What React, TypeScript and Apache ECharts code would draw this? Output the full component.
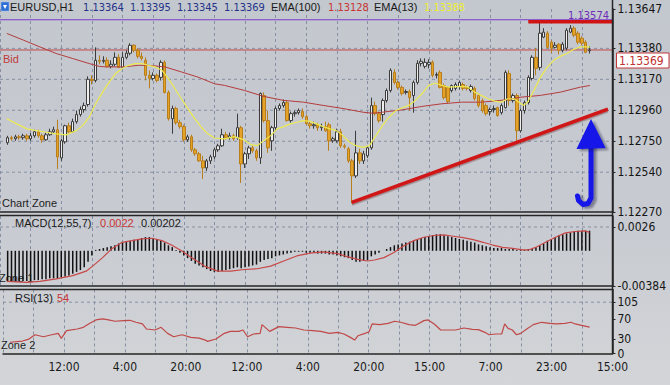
import React, { useEffect, useRef } from "react";
import * as echarts from "echarts";

// ---------- data ----------
const FIRST_BAR = -6; // bar index of the first (left-most) candle

const opens = [
  1.12740, 1.12774, 1.12767, 1.12780, 1.12774, 1.12787, 1.12767, 1.12787, 1.12814, 1.12787,
  1.12760, 1.12794, 1.12814, 1.12828, 1.12637, 1.12746, 1.12855, 1.12814, 1.12883, 1.12931,
  1.12965, 1.12999, 1.13170, 1.13162, 1.13299, 1.13292, 1.13299, 1.13258, 1.13272, 1.13319,
  1.13251, 1.13319, 1.13347, 1.13401, 1.13367, 1.13326, 1.13299, 1.13197, 1.13176, 1.13197,
  1.13183, 1.13285, 1.13081, 1.12903, 1.12972, 1.12876, 1.12849, 1.12760, 1.12780, 1.12692,
  1.12665, 1.12617, 1.12569, 1.12617, 1.12644, 1.12692, 1.12719, 1.12794, 1.12774, 1.12787,
  1.12774, 1.12842, 1.12596, 1.12665, 1.12705, 1.12685, 1.12637, 1.13060, 1.12890, 1.12753,
  1.12842, 1.12972, 1.12992, 1.13012, 1.12890, 1.12937, 1.12944, 1.12951, 1.12917, 1.12869,
  1.12855, 1.12862, 1.12842, 1.12849, 1.12862, 1.12753, 1.12753, 1.12814, 1.12719, 1.12699,
  1.12617, 1.12515, 1.12671, 1.12617, 1.12651, 1.12705, 1.12992, 1.12937, 1.12931, 1.13026,
  1.13094, 1.13217, 1.13149, 1.13115, 1.13081, 1.13087, 1.13060, 1.13149, 1.13278, 1.13258,
  1.13272, 1.13285, 1.13197, 1.13217, 1.13128, 1.13115, 1.13094, 1.13108, 1.13121, 1.13135,
  1.13115, 1.13094, 1.13108, 1.13060, 1.13026, 1.12992, 1.12951, 1.12965, 1.12978, 1.12944,
  1.12978, 1.13210, 1.13026, 1.13060, 1.12821, 1.12958, 1.13012, 1.13176, 1.13319, 1.13251,
  1.13456, 1.13483, 1.13422, 1.13387, 1.13408, 1.13367, 1.13381, 1.13490, 1.13517, 1.13483,
  1.13449, 1.13422, 1.13364,
];
const closes = [
  1.12774, 1.12767, 1.12780, 1.12774, 1.12787, 1.12767, 1.12787, 1.12814, 1.12787, 1.12760,
  1.12794, 1.12814, 1.12828, 1.12644, 1.12753, 1.12855, 1.12814, 1.12883, 1.12931, 1.12965,
  1.12992, 1.13170, 1.13162, 1.13299, 1.13292, 1.13299, 1.13258, 1.13272, 1.13319, 1.13251,
  1.13319, 1.13347, 1.13401, 1.13367, 1.13326, 1.13312, 1.13197, 1.13176, 1.13197, 1.13162,
  1.13285, 1.13081, 1.12903, 1.12972, 1.12876, 1.12849, 1.12760, 1.12780, 1.12692, 1.12665,
  1.12617, 1.12569, 1.12617, 1.12644, 1.12692, 1.12719, 1.12794, 1.12774, 1.12787, 1.12767,
  1.12842, 1.12596, 1.12665, 1.12705, 1.12685, 1.12637, 1.13074, 1.12890, 1.12705, 1.12842,
  1.12972, 1.12992, 1.13012, 1.12890, 1.12937, 1.12944, 1.12958, 1.12917, 1.12869, 1.12855,
  1.12862, 1.12842, 1.12849, 1.12821, 1.12753, 1.12767, 1.12814, 1.12719, 1.12712, 1.12617,
  1.12515, 1.12671, 1.12617, 1.12665, 1.12705, 1.12992, 1.12937, 1.12890, 1.13026, 1.13094,
  1.13231, 1.13149, 1.13115, 1.13074, 1.13087, 1.13046, 1.13149, 1.13278, 1.13292, 1.13285,
  1.13285, 1.13197, 1.13203, 1.13115, 1.13046, 1.13019, 1.13128, 1.13135, 1.13149, 1.13108,
  1.13108, 1.13121, 1.13040, 1.12992, 1.12958, 1.12937, 1.12965, 1.12972, 1.12924, 1.12992,
  1.13217, 1.13026, 1.13060, 1.12821, 1.12958, 1.13012, 1.13183, 1.13319, 1.13244, 1.13483,
  1.13490, 1.13387, 1.13381, 1.13401, 1.13367, 1.13408, 1.13503, 1.13517, 1.13469, 1.13422,
  1.13415, 1.13353, 1.13369,
];
const highs = [
  1.12787, 1.12787, 1.12794, 1.12794, 1.12801, 1.12801, 1.12808, 1.12828, 1.12828, 1.12801,
  1.12808, 1.12835, 1.12849, 1.12896, 1.12767, 1.12862, 1.12876, 1.12903, 1.12958, 1.12985,
  1.13012, 1.13190, 1.13197, 1.13387, 1.13333, 1.13326, 1.13319, 1.13299, 1.13353, 1.13340,
  1.13353, 1.13367, 1.13415, 1.13408, 1.13381, 1.13353, 1.13319, 1.13231, 1.13217, 1.13210,
  1.13299, 1.13299, 1.13094, 1.12992, 1.12985, 1.12896, 1.12862, 1.12794, 1.12794, 1.12705,
  1.12678, 1.12651, 1.12630, 1.12658, 1.12705, 1.12733, 1.12835, 1.12814, 1.12808, 1.12801,
  1.12937, 1.12855, 1.12678, 1.12719, 1.12719, 1.12699, 1.13081, 1.13081, 1.12958, 1.12855,
  1.12985, 1.13006, 1.13033, 1.13026, 1.12951, 1.12958, 1.12972, 1.12972, 1.12931, 1.12883,
  1.12883, 1.12876, 1.12869, 1.12883, 1.12876, 1.12780, 1.12835, 1.12835, 1.12733, 1.12712,
  1.12630, 1.12821, 1.12699, 1.12685, 1.12719, 1.13046, 1.13019, 1.12951, 1.13040, 1.13108,
  1.13244, 1.13238, 1.13162, 1.13128, 1.13101, 1.13101, 1.13162, 1.13299, 1.13312, 1.13312,
  1.13306, 1.13299, 1.13217, 1.13231, 1.13142, 1.13121, 1.13135, 1.13149, 1.13162, 1.13149,
  1.13128, 1.13135, 1.13121, 1.13074, 1.13040, 1.13006, 1.12978, 1.12992, 1.12985, 1.13006,
  1.13231, 1.13231, 1.13074, 1.13074, 1.12972, 1.13026, 1.13197, 1.13333, 1.13381, 1.13558,
  1.13517, 1.13497, 1.13435, 1.13422, 1.13415, 1.13422, 1.13517, 1.13538, 1.13531, 1.13497,
  1.13462, 1.13435, 1.13395,
];
const lows = [
  1.12726, 1.12753, 1.12753, 1.12760, 1.12760, 1.12753, 1.12753, 1.12774, 1.12774, 1.12740,
  1.12753, 1.12787, 1.12801, 1.12562, 1.12617, 1.12733, 1.12801, 1.12808, 1.12869, 1.12917,
  1.12944, 1.12985, 1.13135, 1.13149, 1.13272, 1.13278, 1.13251, 1.13244, 1.13258, 1.13251,
  1.13244, 1.13306, 1.13333, 1.13353, 1.13312, 1.13299, 1.13162, 1.13108, 1.13162, 1.13149,
  1.13162, 1.13074, 1.12890, 1.12801, 1.12862, 1.12835, 1.12746, 1.12746, 1.12678, 1.12651,
  1.12610, 1.12494, 1.12549, 1.12596, 1.12630, 1.12678, 1.12712, 1.12760, 1.12760, 1.12753,
  1.12760, 1.12467, 1.12569, 1.12630, 1.12671, 1.12617, 1.12596, 1.12876, 1.12671, 1.12685,
  1.12821, 1.12958, 1.12978, 1.12883, 1.12876, 1.12917, 1.12931, 1.12903, 1.12862, 1.12835,
  1.12835, 1.12821, 1.12821, 1.12814, 1.12685, 1.12740, 1.12740, 1.12705, 1.12699, 1.12603,
  1.12330, 1.12501, 1.12596, 1.12596, 1.12637, 1.12692, 1.12924, 1.12876, 1.12883, 1.13012,
  1.13081, 1.13135, 1.13101, 1.13060, 1.13067, 1.12958, 1.12944, 1.13135, 1.13258, 1.13244,
  1.13244, 1.13183, 1.13176, 1.13108, 1.13033, 1.13006, 1.13081, 1.13094, 1.13101, 1.13094,
  1.13094, 1.13081, 1.13026, 1.12978, 1.12944, 1.12924, 1.12924, 1.12944, 1.12917, 1.12931,
  1.12972, 1.12992, 1.13012, 1.12753, 1.12808, 1.12937, 1.12999, 1.13162, 1.13197, 1.13231,
  1.13449, 1.13381, 1.13347, 1.13381, 1.13340, 1.13353, 1.13367, 1.13483, 1.13456, 1.13408,
  1.13401, 1.13347, 1.13345,
];

// EMA lines (bar index, price)
const ema100X = [-6.2, -1.9, 2.4, 6.7, 11.0, 15.3, 17.9, 19.6, 23.9, 28.2, 30.8, 35.1, 39.4, 43.7, 48.0, 50.6, 55.8, 60.9, 66.1, 71.3, 76.4, 81.6, 86.8, 89.3, 91.9, 97.1, 102.2, 107.4, 112.6, 117.7, 122.9, 128.1, 133.2, 138.4, 143.6, 146.1];
const ema100V = [1.13481, 1.13436, 1.13390, 1.13345, 1.13311, 1.13277, 1.13258, 1.13254, 1.13254, 1.13265, 1.13265, 1.13254, 1.13220, 1.13185, 1.13140, 1.13129, 1.13095, 1.13054, 1.13027, 1.13015, 1.12993, 1.12972, 1.12947, 1.12940, 1.12947, 1.12963, 1.12986, 1.13004, 1.13015, 1.13015, 1.13027, 1.13049, 1.13061, 1.13083, 1.13117, 1.13128];
const ema13X = [-6.2, -3.6, -1.0, 1.5, 4.1, 6.7, 9.3, 11.9, 13.6, 15.3, 17.0, 18.8, 20.5, 22.2, 23.9, 25.6, 27.4, 29.1, 30.8, 32.5, 34.3, 36.0, 37.7, 39.4, 41.1, 42.9, 44.6, 46.3, 48.0, 50.6, 53.2, 55.8, 57.5, 59.2, 60.9, 62.7, 64.4, 66.1, 67.8, 69.5, 71.3, 73.0, 74.7, 76.4, 78.2, 79.9, 81.6, 83.3, 85.0, 86.8, 88.5, 90.2, 91.9, 93.6, 95.4, 97.1, 98.8, 100.5, 102.2, 104.0, 105.7, 107.4, 109.1, 112.6, 114.3, 116.0, 117.7, 119.5, 121.2, 122.9, 124.6, 126.3, 128.1, 128.9, 129.8, 131.5, 133.2, 135.0, 136.7, 138.4, 140.1, 141.8, 143.6, 145.3, 146.1];
const ema13V = [1.12902, 1.12868, 1.12834, 1.12822, 1.12811, 1.12800, 1.12793, 1.12822, 1.12856, 1.12913, 1.13004, 1.13083, 1.13151, 1.13209, 1.13243, 1.13265, 1.13277, 1.13277, 1.13265, 1.13254, 1.13231, 1.13175, 1.13106, 1.13038, 1.12970, 1.12902, 1.12845, 1.12800, 1.12772, 1.12766, 1.12781, 1.12759, 1.12727, 1.12720, 1.12754, 1.12788, 1.12834, 1.12849, 1.12868, 1.12879, 1.12890, 1.12885, 1.12868, 1.12849, 1.12834, 1.12822, 1.12788, 1.12743, 1.12720, 1.12708, 1.12720, 1.12788, 1.12856, 1.12913, 1.12958, 1.12977, 1.12993, 1.13027, 1.13072, 1.13129, 1.13145, 1.13129, 1.13117, 1.13122, 1.13117, 1.13083, 1.13061, 1.13038, 1.13022, 1.13015, 1.13038, 1.13038, 1.13004, 1.12993, 1.13015, 1.13095, 1.13185, 1.13254, 1.13299, 1.13327, 1.13345, 1.13372, 1.13390, 1.13390, 1.13388];

// drawn objects on the price chart
const trendX = [83.9, 150.8];
const trendY = [1.12335, 1.12968];
const resistX = [130, 152];
const resistY = [1.13561, 1.13561];
const bidPrice = 1.13369;
const hLinePrice = 1.13574;

// MACD histogram (one per bar) and signal line
const macdHist = [
  -0.0033, -0.0034, -0.0034, -0.0034, -0.0033, -0.0033, -0.0033, -0.0032, -0.0032,
  -0.0031, -0.0031, -0.0030, -0.0030,
  -0.0030, -0.0029, -0.0028, -0.0027,
  -0.0025, -0.0023, -0.0021, -0.0018,
  -0.0012, -0.0005,
  0.0001, 0.0002, 0.0003,
  0.0004, 0.0005, 0.0006, 0.0008, 0.0009, 0.0010, 0.0011, 0.0012, 0.0013, 0.0014, 0.0015, 0.0015,
  0.0014, 0.0013, 0.0011, 0.0009, 0.0006, 0.0004, 0.0001,
  -0.0002, -0.0005, -0.0008, -0.0011, -0.0014, -0.0016, -0.0018, -0.0020, -0.0022, -0.0023,
  -0.0023, -0.0022, -0.0021, -0.0020, -0.0019, -0.0018, -0.0019, -0.0018, -0.0017, -0.0016, -0.0015, -0.0012, -0.0010, -0.0009,
  -0.0008, -0.0006, -0.0005, -0.0004, -0.0003, -0.0002,
  -0.0001, -0.0001, -0.0001, -0.0002, -0.0002, -0.0002, -0.0003, -0.0003, -0.0003, -0.0004, -0.0004, -0.0005,
  -0.0006, -0.0007, -0.0008, -0.0010, -0.0012, -0.0012, -0.0011,
  -0.0010, -0.0006, -0.0004, -0.0002, 0.0000, 0.0002,
  0.0004, 0.0006, 0.0007, 0.0008, 0.0009, 0.0010, 0.0011, 0.0012, 0.0014, 0.0015, 0.0016, 0.0017, 0.0018,
  0.0018, 0.0017, 0.0016, 0.0015, 0.0014, 0.0013, 0.0012, 0.0011, 0.0010, 0.0009, 0.0007, 0.0006, 0.0005, 0.0004,
  0.0003, 0.0003, 0.0003, 0.0002, 0.0002, 0.0002, 0.0001, 0.0001, 0.0001, 0.0002, 0.0002,
  0.0004, 0.0006, 0.0008, 0.0011, 0.0013, 0.0015, 0.0017, 0.0018, 0.0019, 0.0020, 0.0021, 0.0022, 0.0022, 0.0022, 0.0022,
];
const macdSigX = [-6.2, -1.0, 2.4, 6.7, 11.0, 14.5, 16.2, 18.8, 21.3, 23.9, 26.5, 29.1, 31.7, 34.3, 36.8, 39.4, 42.0, 45.4, 48.9, 52.3, 55.8, 59.2, 62.7, 66.1, 69.5, 73.0, 76.4, 80.3, 82.9, 85.5, 88.0, 89.8, 92.3, 94.9, 97.5, 100.1, 102.7, 105.3, 107.9, 110.4, 113.0, 115.6, 118.2, 120.7, 123.3, 125.9, 128.5, 130.2, 131.9, 134.5, 137.1, 139.7, 142.3, 144.8, 146.0];
const macdSigV = [-0.00333, -0.00344, -0.00333, -0.00307, -0.00270, -0.00222, -0.00167, -0.00074, 0.00026, 0.00093, 0.00111, 0.00130, 0.00137, 0.00111, 0.00063, 0.00000, -0.00074, -0.00167, -0.00222, -0.00222, -0.00204, -0.00196, -0.00167, -0.00111, -0.00056, -0.00026, -0.00011, -0.00030, -0.00067, -0.00093, -0.00111, -0.00100, -0.00074, -0.00019, 0.00056, 0.00111, 0.00148, 0.00167, 0.00174, 0.00159, 0.00144, 0.00122, 0.00093, 0.00063, 0.00037, 0.00026, 0.00011, 0.00011, 0.00037, 0.00093, 0.00148, 0.00196, 0.00211, 0.00218, 0.00202];

// RSI(13)
const rsiX = [-6.2, -2.9, -1.2, 0.4, 2.6, 4.8, 6.5, 7.3, 8.7, 11.5, 13.1, 14.8, 16.4, 18.1, 19.7, 21.4, 23.6, 25.3, 26.9, 28.6, 29.7, 31.9, 33.5, 35.2, 36.8, 39.0, 41.3, 43.5, 45.1, 45.7, 47.9, 50.1, 51.7, 53.9, 55.0, 56.2, 57.8, 59.5, 60.0, 62.0, 64.4, 66.6, 68.8, 71.0, 73.3, 75.4, 77.7, 79.9, 81.5, 83.2, 84.3, 85.2, 87.0, 88.1, 88.9, 90.9, 93.1, 94.8, 96.4, 98.6, 100.3, 102.5, 103.6, 105.2, 106.9, 108.6, 110.8, 113.0, 115.2, 116.8, 118.5, 119.6, 121.3, 122.9, 123.7, 124.6, 125.7, 126.8, 127.9, 129.5, 131.2, 133.4, 135.6, 137.3, 139.5, 141.1, 142.2, 143.9, 146.0];
const rsiV = [23.0, 25.5, 29.5, 38.4, 34.3, 38.4, 41.2, 30.9, 46.7, 50.1, 53.6, 61.8, 68.7, 70.8, 68.7, 66.0, 67.3, 68.0, 63.9, 60.5, 50.1, 48.1, 53.6, 41.2, 34.3, 38.4, 33.0, 31.6, 27.5, 24.8, 29.6, 41.2, 45.3, 45.3, 48.1, 34.3, 39.9, 41.2, 59.1, 45.3, 55.0, 53.6, 52.2, 48.1, 46.7, 45.3, 41.2, 43.3, 39.9, 33.0, 27.5, 36.4, 41.2, 44.6, 60.5, 59.1, 61.8, 66.0, 63.9, 59.1, 57.7, 67.3, 68.7, 60.5, 48.1, 48.1, 48.1, 52.2, 49.5, 48.8, 43.3, 38.4, 39.9, 39.9, 60.5, 51.5, 48.1, 38.4, 41.2, 50.1, 59.1, 63.9, 61.8, 60.5, 61.8, 63.9, 60.5, 57.7, 54];

// axes
const X_MIN = -8;
const X_MAX = 152;
const BARS_PER_GRID = 8;
const timeTickPos = [8, 24, 40, 56, 72, 88, 104, 120, 136, 152];
const timeTickLabels = ["12:00", "4:00", "20:00", "12:00", "4:00", "20:00", "15:00", "7:00", "23:00", "15:00"];
const priceTicks = [1.1227, 1.1254, 1.1275, 1.1296, 1.1317, 1.1338, 1.13647];
const priceGridLevels = [1.1254, 1.1275, 1.1296, 1.1317, 1.1338];
const PRICE_MIN = 1.1227;
const PRICE_MAX = 1.13647;
const macdTicks = [-0.00384, 0.0026];
const macdTickLabels = ["-0.00384", "0.0026"];
const macdGridLevels = [0.0026];
const MACD_MIN = -0.00384;
const MACD_MAX = 0.0038;
const rsiTicks = [0, 30, 70, 105];
const rsiGridLevels = [105];
const RSI_MAX = 131;

// header values
const symbolName = "EURUSD,H1";
const ohlcText = ["1.13364", "1.13395", "1.13345", "1.13369"];
const ema100Label = "EMA(100)";
const ema100Value = "1.13128";
const ema13Label = "EMA(13)";
const ema13Value = "1.13388";
const macdLabel = "MACD(12,55,7)";
const macdMainValue = "0.0022";
const macdSignalValue = "0.00202";
const rsiLabel = "RSI(13)";
const rsiValue = "54";

const GRID_COLOR = "#8790a2";
const AXIS_COLOR = "#262626";
const NARROW = '"Liberation Sans Narrow", "DejaVu Sans Condensed", "Arial Narrow", sans-serif';
const SANS = '"Liberation Sans", Arial, sans-serif';

export default function App() {
  const ref = useRef<HTMLDivElement>(null);

  useEffect(() => {
    if (!ref.current) return;
    const chart = echarts.init(ref.current, null, { renderer: "svg" });

    const candles = opens.map((o, k) => [FIRST_BAR + k, o, closes[k], lows[k], highs[k]]);
    const pairs = (xs: number[], ys: number[]) => xs.map((x, k) => [x, ys[k]]);

    const levelLine = (xi: number, yi: number, v: number, color = GRID_COLOR, width = 1, dashed = true, z = 1) => ({
      type: "line",
      xAxisIndex: xi,
      yAxisIndex: yi,
      data: [[X_MIN, v], [X_MAX, v]],
      symbol: "none",
      silent: true,
      z,
      lineStyle: { color, width, type: dashed ? [3, 3] : "solid" },
    });

    const xAxisBase = (gi: number) => ({
      type: "value",
      gridIndex: gi,
      min: X_MIN,
      max: X_MAX,
      interval: BARS_PER_GRID,
      axisLine: { show: true, onZero: false, lineStyle: { color: AXIS_COLOR, width: 1.5 } },
      axisTick: { show: false },
      axisLabel: { show: false },
      splitLine: { show: true, lineStyle: { color: GRID_COLOR, width: 1, type: [3, 3] } },
    });

    const xAxes = [xAxisBase(0), xAxisBase(1), xAxisBase(2)];
    (xAxes[2] as any).axisLabel = {
      show: true,
      margin: 7,
      fontSize: 12,
      color: "#1a1a1a",
      fontFamily: NARROW,
      formatter: (v: number) => {
        const k = timeTickPos.indexOf(Math.round(v));
        return k >= 0 ? timeTickLabels[k] : "";
      },
    };

    const yLabelStyle = { margin: 5, fontSize: 12, color: "#151515", fontFamily: NARROW };
    const yTick = (vals: number[]) => ({ show: true, length: 3, customValues: vals, lineStyle: { color: AXIS_COLOR } });
    const yLine = { show: true, onZero: false, lineStyle: { color: AXIS_COLOR, width: 1.5 } };

    const option: any = {
      animation: false,
      grid: [
        { left: -7, right: 57.5, top: 9, height: 203 },
        { left: -7, right: 57.5, top: 216, height: 70 },
        { left: -7, right: 57.5, top: 289.5, height: 64 },
      ],
      xAxis: xAxes,
      yAxis: [
        {
          type: "value", gridIndex: 0, position: "right", min: PRICE_MIN, max: PRICE_MAX,
          axisLine: yLine,
          axisTick: yTick(priceTicks),
          axisLabel: { ...yLabelStyle, customValues: priceTicks, formatter: (v: number) => v.toFixed(5) },
          splitLine: { show: false },
        },
        {
          type: "value", gridIndex: 1, position: "right", min: MACD_MIN, max: MACD_MAX,
          axisLine: yLine,
          axisTick: yTick(macdTicks),
          axisLabel: {
            ...yLabelStyle, customValues: macdTicks,
            formatter: (v: number) => {
              let best = 0;
              macdTicks.forEach((t, k) => { if (Math.abs(t - v) < Math.abs(macdTicks[best] - v)) best = k; });
              return macdTickLabels[best];
            },
          },
          splitLine: { show: false },
        },
        {
          type: "value", gridIndex: 2, position: "right", min: 0, max: RSI_MAX,
          axisLine: yLine,
          axisTick: yTick(rsiTicks),
          axisLabel: { ...yLabelStyle, customValues: rsiTicks, formatter: (v: number) => String(Math.round(v)) },
          splitLine: { show: false },
        },
      ],
      series: [
        ...priceGridLevels.map((v) => levelLine(0, 0, v)),
        levelLine(0, 0, bidPrice, "#c44848", 1, false, 2),
        levelLine(0, 0, hLinePrice, "#7a3ccc", 1.2, false, 2),
        {
          type: "candlestick",
          xAxisIndex: 0,
          yAxisIndex: 0,
          data: candles,
          encode: { x: 0, y: [1, 2, 3, 4] },
          barWidth: 3,
          z: 3,
          itemStyle: {
            color: "#eeeeee",
            color0: "#e4a228",
            borderColor: "#3c3c3c",
            borderColor0: "#b97e1c",
            borderWidth: 1,
          },
        },
        {
          type: "line", xAxisIndex: 0, yAxisIndex: 0, data: pairs(ema100X, ema100V),
          symbol: "none", z: 4, lineStyle: { color: "#b43c3c", width: 1 },
        },
        {
          type: "line", xAxisIndex: 0, yAxisIndex: 0, data: pairs(ema13X, ema13V),
          symbol: "none", z: 5, lineStyle: { color: "#ecea50", width: 1.2 },
        },
        {
          type: "line", xAxisIndex: 0, yAxisIndex: 0, data: pairs(trendX, trendY),
          symbol: "none", z: 10, lineStyle: { color: "#d01414", width: 3.5, shadowColor: "rgba(60,0,0,0.35)", shadowOffsetY: 1.5, shadowBlur: 1 },
        },
        {
          type: "line", xAxisIndex: 0, yAxisIndex: 0, data: pairs(resistX, resistY),
          symbol: "none", z: 10, lineStyle: { color: "#d01414", width: 3.5 },
        },
        // MACD
        ...macdGridLevels.map((v) => levelLine(1, 1, v)),
        {
          type: "bar", xAxisIndex: 1, yAxisIndex: 1,
          data: macdHist.map((v, k) => [FIRST_BAR + k, v]),
          barWidth: 1.5, z: 3, itemStyle: { color: "#111111" },
        },
        {
          type: "line", xAxisIndex: 1, yAxisIndex: 1, data: pairs(macdSigX, macdSigV),
          symbol: "none", z: 4, lineStyle: { color: "#c84848", width: 1.2 },
        },
        // RSI
        ...rsiGridLevels.map((v) => levelLine(2, 2, v)),
        {
          type: "line", xAxisIndex: 2, yAxisIndex: 2, data: pairs(rsiX, rsiV),
          symbol: "none", z: 4, lineStyle: { color: "#c04848", width: 1.2 },
        },
      ],
      graphic: [
        // panel separators & right axis rule
        { type: "line", z: 20, shape: { x1: 0, y1: 215.5, x2: 612.5, y2: 215.5 }, style: { stroke: AXIS_COLOR, lineWidth: 1.5 } },
        { type: "line", z: 20, shape: { x1: 0, y1: 289.5, x2: 612.5, y2: 289.5 }, style: { stroke: AXIS_COLOR, lineWidth: 1.5 } },
        { type: "line", z: 20, shape: { x1: 612.5, y1: 0, x2: 612.5, y2: 354 }, style: { stroke: AXIS_COLOR, lineWidth: 1.5 } },
        // header
        { type: "rect", z: 30, shape: { x: 1, y: 2, width: 8, height: 9 }, style: { fill: "#2f6fd6", stroke: "#9ab8ea", lineWidth: 0.5 } },
        { type: "polygon", z: 31, shape: { points: [[3, 5], [7, 5], [5, 9]] }, style: { fill: "#ffffff" } },
        { type: "text", z: 30, x: 10, y: 7, style: { text: symbolName, fill: "#1a1a1a", font: `11px ${SANS}`, verticalAlign: "middle" } },
        ...ohlcText.map((t, k) => ({
          type: "text", z: 30, x: [83, 130, 177, 224][k], y: 7,
          style: { text: t, fill: "#26338a", font: `11px ${NARROW}`, verticalAlign: "middle" },
        })),
        { type: "text", z: 30, x: 271, y: 7, style: { text: ema100Label, fill: "#1a1a1a", font: `11px ${SANS}`, verticalAlign: "middle" } },
        { type: "text", z: 30, x: 328, y: 7, style: { text: ema100Value, fill: "#c83434", font: `11px ${NARROW}`, verticalAlign: "middle" } },
        { type: "text", z: 30, x: 374, y: 7, style: { text: ema13Label, fill: "#1a1a1a", font: `11px ${SANS}`, verticalAlign: "middle" } },
        { type: "text", z: 30, x: 424, y: 7, style: { text: ema13Value, fill: "#eeee30", font: `11px ${NARROW}`, verticalAlign: "middle" } },
        // horizontal line label (partly hidden behind the red line)
        { type: "text", z: 1, x: 609, y: 15, style: { text: hLinePrice.toFixed(5), fill: "#6c2cb8", font: `11px ${NARROW}`, align: "right", verticalAlign: "middle" } },
        { type: "text", z: 30, x: 3, y: 59, style: { text: "Bid", fill: "#c23a3a", font: `11px ${SANS}`, verticalAlign: "middle" } },
        { type: "text", z: 30, x: 2, y: 203, style: { text: "Chart Zone", fill: "#1e1e1e", font: `11px ${SANS}`, verticalAlign: "middle" } },
        // bid price box
        { type: "rect", z: 40, shape: { x: 616.5, y: 53, width: 52.5, height: 15 }, style: { fill: "#ffffff", stroke: "#c03838", lineWidth: 1 } },
        { type: "text", z: 41, x: 619, y: 61, style: { text: bidPrice.toFixed(5), fill: "#c03030", font: `12px ${NARROW}`, verticalAlign: "middle" } },
        // MACD header
        { type: "text", z: 30, x: 15, y: 223, style: { text: macdLabel, fill: "#1a1a1a", font: `11px ${SANS}`, verticalAlign: "middle" } },
        { type: "text", z: 30, x: 100, y: 223, style: { text: macdMainValue, fill: "#c83434", font: `11px ${SANS}`, verticalAlign: "middle" } },
        { type: "text", z: 30, x: 141, y: 223, style: { text: macdSignalValue, fill: "#1a1a1a", font: `11px ${SANS}`, verticalAlign: "middle" } },
        { type: "text", z: 1, x: -1, y: 278, style: { text: "Zone 1", fill: "#1e1e1e", font: `11px ${SANS}`, verticalAlign: "middle" } },
        // RSI header
        { type: "text", z: 30, x: 15, y: 297.5, style: { text: rsiLabel, fill: "#1a1a1a", font: `11px ${SANS}`, verticalAlign: "middle" } },
        { type: "text", z: 30, x: 57, y: 297.5, style: { text: rsiValue, fill: "#c83434", font: `11px ${SANS}`, verticalAlign: "middle" } },
        { type: "text", z: 30, x: 1, y: 345, style: { text: "Zone 2", fill: "#1e1e1e", font: `11px ${SANS}`, verticalAlign: "middle" } },
        // blue arrow
        {
          type: "polyline", z: 45,
          shape: { points: [[591, 146], [591, 198], [588, 203.5], [583, 204.5], [578.5, 200.5], [577.5, 196]] },
          style: { stroke: "#1212e8", lineWidth: 5, fill: null, lineCap: "round", lineJoin: "round", shadowColor: "rgba(30,30,60,0.45)", shadowOffsetX: 3, shadowOffsetY: 2, shadowBlur: 2 },
        },
        {
          type: "polygon", z: 46,
          shape: { points: [[591, 119], [576.5, 149], [605.5, 148]] },
          style: { fill: "#1212e8", shadowColor: "rgba(30,30,60,0.45)", shadowOffsetX: 3, shadowOffsetY: 2, shadowBlur: 2 },
        },
      ],
    };

    chart.setOption(option);
    return () => chart.dispose();
  }, []);

  return (
    <div
      ref={ref}
      style={{
        position: "fixed",
        left: 0,
        top: 0,
        width: 670,
        height: 385,
        background: "linear-gradient(to bottom, #c3c7ce 0%, #c8cbd1 60%, #d3d5d8 100%)",
      }}
    />
  );
}
